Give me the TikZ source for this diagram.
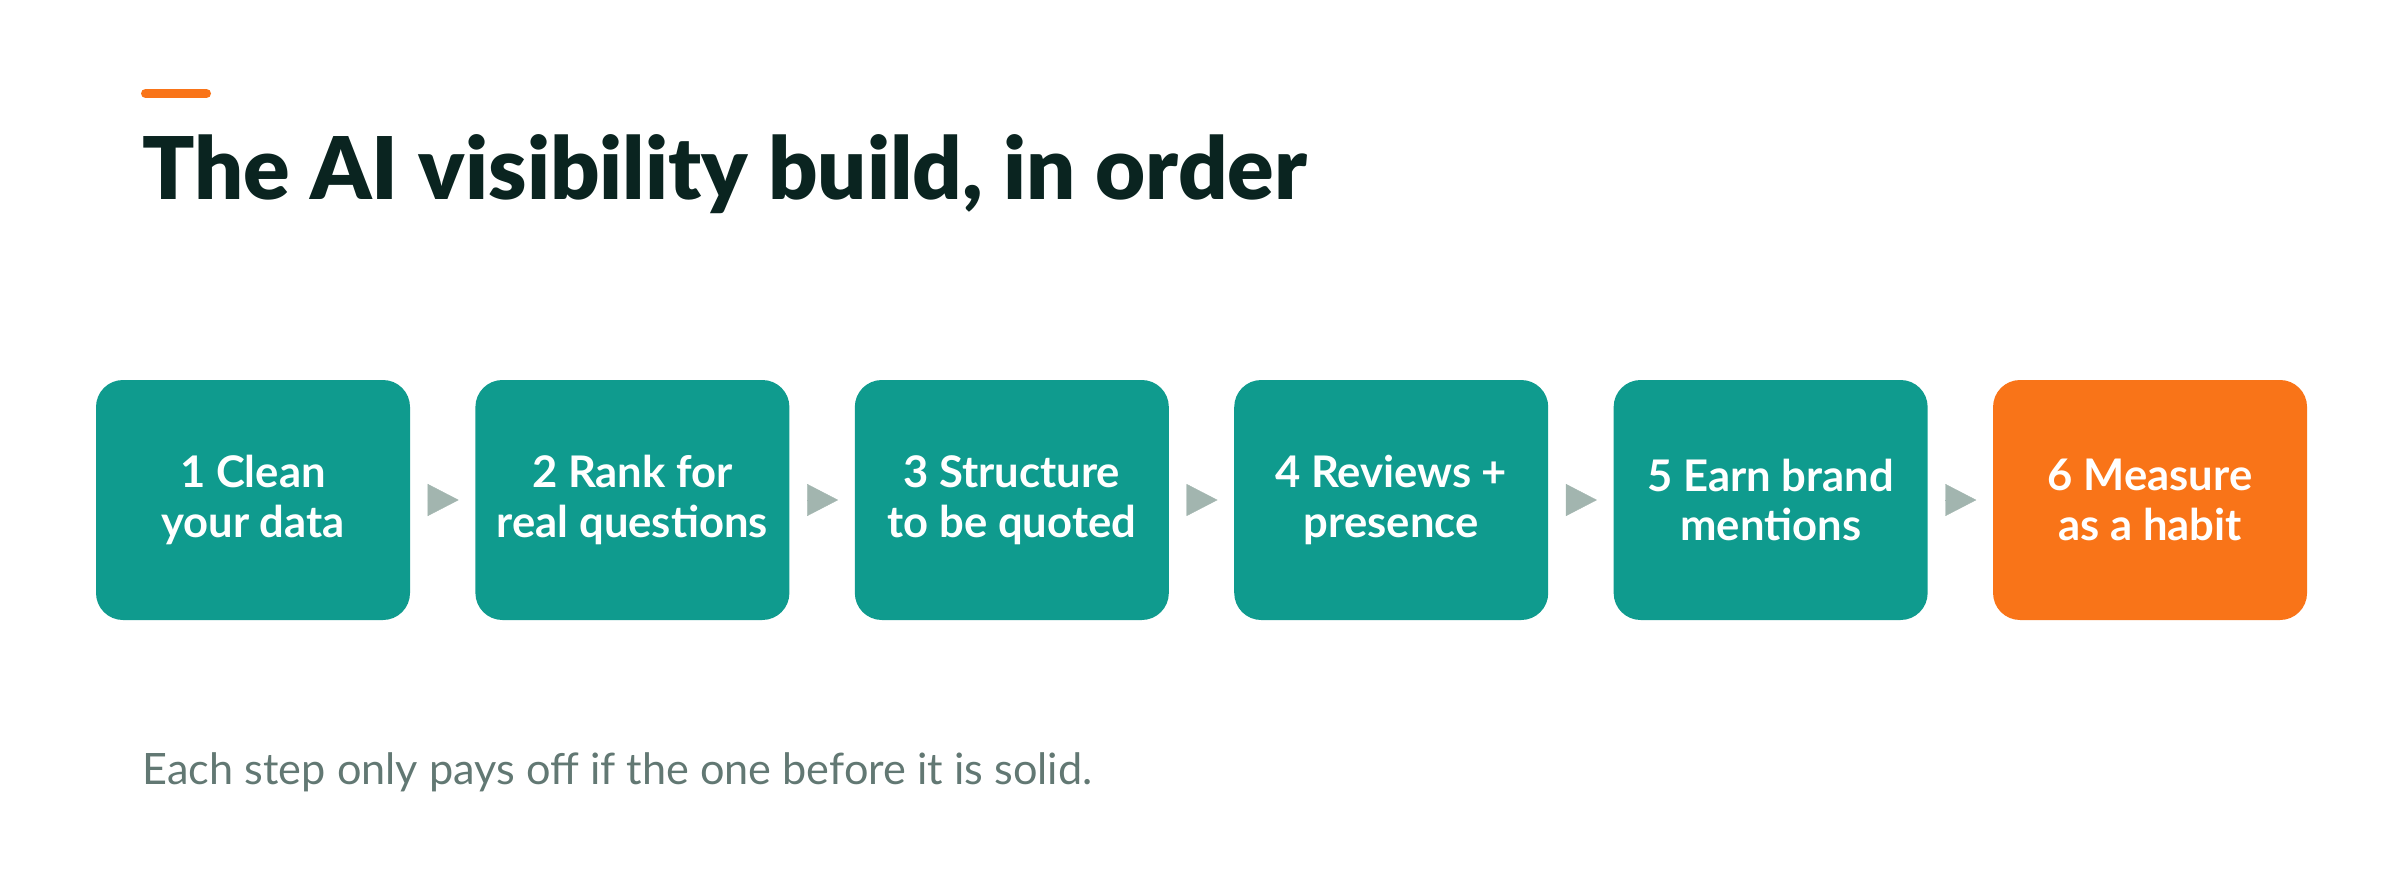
\documentclass[tikz,border=0pt]{standalone}
\usepackage{fontspec}
\setmainfont{Lato}
\newfontfamily\titlefont{Lato Black}
\usetikzlibrary{positioning,arrows.meta}
\definecolor{tealbox}{HTML}{0F9B8E}
\definecolor{orangebox}{HTML}{F97418}
\definecolor{titleink}{HTML}{0A2420}
\definecolor{arrowgray}{HTML}{A2B5AF}
\definecolor{notegray}{HTML}{627873}

\begin{document}
\begin{tikzpicture}[
stepbox/.style={fill=tealbox, rounded corners=0.27cm, minimum width=3.14cm, minimum height=2.40cm,
  inner sep=0pt, text=white, align=center, font=\fontsize{12.4}{14.2}\selectfont\bfseries},
laststep/.style={stepbox, fill=orangebox},
flowarrow/.style={draw=arrowgray, line width=0.1pt, -{Triangle[length=0.31cm,width=0.32cm]},
  shorten <=0.17cm, shorten >=0.16cm},
]
\useasboundingbox (0,0) rectangle (24,8.8);

% accent bar and title
\draw[orangebox, line width=0.09cm, line cap=round] (1.455,7.865) -- (2.065,7.865);
\node[anchor=base west, inner sep=0pt, text=titleink, font=\titlefont\fontsize{24.6}{28}\selectfont]
  (title) at (1.42,6.80) {The AI visibility build, in order};

% the six steps
\node[stepbox] (s1) at (2.53,3.80) {1 Clean\\your data};
\node[stepbox, right=0.64cm of s1] (s2) {2 Rank for\\real questions};
\node[stepbox, right=0.64cm of s2] (s3) {3 Structure\\to be quoted};
\node[stepbox, right=0.64cm of s3] (s4) {4 Reviews +\\presence};
\node[stepbox, right=0.64cm of s4] (s5) {5 Earn brand\\mentions};
\node[laststep, right=0.64cm of s5] (s6) {6 Measure\\as a habit};

\foreach \a/\b in {s1/s2,s2/s3,s3/s4,s4/s5,s5/s6}
  \draw[flowarrow] (\a) -- (\b);

% footnote
\node[anchor=base west, inner sep=0pt, text=notegray, font=\fontsize{12.3}{14}\selectfont]
  (note) at (1.42,0.96) {Each step only pays off if the one before it is solid.};
\end{tikzpicture}
\end{document}
